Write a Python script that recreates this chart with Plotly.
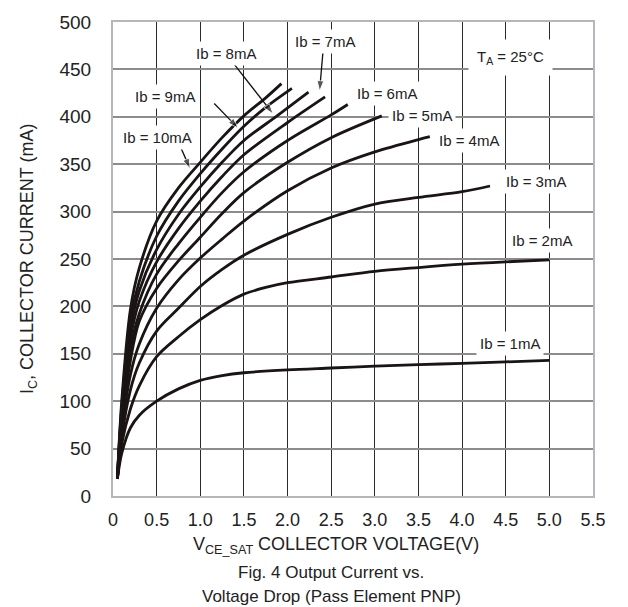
import plotly.graph_objects as go

# ---- data ----
ib1_v = [0.05, 0.1, 0.2, 0.3, 0.5, 0.75, 1.0, 1.25, 1.5, 2.0, 2.5, 3.0, 3.5, 4.0, 4.5, 5.0]
ib1_i = [18, 45, 72, 85, 100, 113, 122, 127, 130, 133, 135, 137, 138.5, 140, 141.5, 143]

ib2_v = [0.05, 0.1, 0.2, 0.3, 0.5, 0.75, 1.0, 1.25, 1.5, 1.75, 2.0, 2.5, 3.0, 3.5, 4.0, 4.5, 5.0]
ib2_i = [18, 55, 92, 116, 147, 168, 186, 201, 213, 220, 225, 231, 237, 241, 244.5, 247, 249]

ib3_v = [0.05, 0.1, 0.2, 0.3, 0.5, 0.75, 1.0, 1.25, 1.5, 2.0, 2.5, 3.0, 3.5, 4.0, 4.32]
ib3_i = [18, 62, 112, 140, 174, 198, 221, 239, 254, 276, 294, 308, 315, 321, 327]

ib4_v = [0.05, 0.1, 0.2, 0.3, 0.5, 0.75, 1.0, 1.25, 1.5, 2.0, 2.5, 3.0, 3.5, 3.63]
ib4_i = [18, 68, 128, 160, 198, 228, 251, 271, 290, 322, 346, 363, 376, 379]

ib5_v = [0.05, 0.1, 0.2, 0.3, 0.5, 0.75, 1.0, 1.25, 1.5, 2.0, 2.5, 3.08]
ib5_i = [18, 74, 143, 184, 219, 248, 273, 298, 320, 352, 378, 401]

ib6_v = [0.05, 0.1, 0.2, 0.3, 0.5, 0.75, 1.0, 1.25, 1.5, 2.0, 2.5, 2.69]
ib6_i = [18, 80, 155, 192, 234, 266, 294, 320, 342, 375, 402, 413]

ib7_v = [0.05, 0.1, 0.2, 0.3, 0.5, 0.75, 1.0, 1.25, 1.5, 2.0, 2.43]
ib7_i = [18, 85, 166, 205, 247, 282, 311, 337, 360, 394, 421]

ib8_v = [0.05, 0.1, 0.2, 0.3, 0.5, 0.75, 1.0, 1.25, 1.5, 1.88, 2.24]
ib8_i = [18, 90, 176, 216, 260, 297, 326, 352, 375, 401, 426]

ib9_v = [0.05, 0.1, 0.2, 0.3, 0.5, 0.75, 1.0, 1.25, 1.5, 1.75, 2.05]
ib9_i = [18, 95, 186, 226, 274, 311, 340, 366, 390, 410, 430]

ib10_v = [0.05, 0.1, 0.2, 0.3, 0.5, 0.75, 1.0, 1.25, 1.5, 1.75, 1.93]
ib10_i = [18, 100, 197, 240, 290, 325, 352, 378, 401, 420, 435]

curve_names = ["Ib = 1mA", "Ib = 2mA", "Ib = 3mA", "Ib = 4mA", "Ib = 5mA",
               "Ib = 6mA", "Ib = 7mA", "Ib = 8mA", "Ib = 9mA", "Ib = 10mA"]
curves_v = [ib1_v, ib2_v, ib3_v, ib4_v, ib5_v, ib6_v, ib7_v, ib8_v, ib9_v, ib10_v]
curves_i = [ib1_i, ib2_i, ib3_i, ib4_i, ib5_i, ib6_i, ib7_i, ib8_i, ib9_i, ib10_i]

x_tickvals = [0, 0.5, 1.0, 1.5, 2.0, 2.5, 3.0, 3.5, 4.0, 4.5, 5.0, 5.5]
x_ticktext = ["0", "0.5", "1.0", "1.5", "2.0", "2.5", "3.0", "3.5", "4.0", "4.5", "5.0", "5.5"]
y_tickvals = [0, 50, 100, 150, 200, 250, 300, 350, 400, 450, 500]

# label positions (data coords) for curve labels
label_text = ["Ib = 1mA", "Ib = 2mA", "Ib = 3mA", "Ib = 4mA", "Ib = 5mA",
              "Ib = 6mA", "Ib = 7mA", "Ib = 8mA", "Ib = 9mA", "Ib = 10mA"]
label_v = [4.55, 4.92, 4.85, 4.08, 3.54, 3.14, 2.43, 1.29, 0.60, 0.51]
label_i = [161, 270, 332, 375, 401, 425, 479, 467, 421, 378]

# arrows: (tail_v, tail_i, tip_v, tip_i)
arrow_tail_v = [0.77, 1.16, 1.34, 2.41]
arrow_tail_i = [369, 414, 461, 473]
arrow_tip_v = [0.885, 1.435, 1.835, 2.367]
arrow_tip_i = [345, 388, 403, 427]

FONT = "Arial, Liberation Sans, sans-serif"

fig = go.Figure()
for name, vv, ii in zip(curve_names, curves_v, curves_i):
    fig.add_trace(go.Scatter(x=vv, y=ii, mode="lines", name=name,
                             line=dict(color="#1a1414", width=2.8, shape="spline", smoothing=0.9),
                             showlegend=False, hoverinfo="skip"))

# label arrows (line + arrow-head marker at the tip)
for tv, ti, hv, hi in zip(arrow_tail_v, arrow_tail_i, arrow_tip_v, arrow_tip_i):
    fig.add_trace(go.Scatter(x=[tv, hv], y=[ti, hi], mode="lines+markers",
                             line=dict(color="#111", width=1.3),
                             marker=dict(symbol="arrow", size=[0, 11], angleref="previous",
                                         color="#111"),
                             showlegend=False, hoverinfo="skip"))

annotations = []
for t, v, i in zip(label_text, label_v, label_i):
    annotations.append(dict(x=v, y=i, xref="x", yref="y", text=t, showarrow=False,
                            font=dict(family=FONT, size=15, color="#222"),
                            bgcolor="white", borderpad=3))
annotations.append(dict(x=4.55, y=463, xref="x", yref="y", text="T<sub>A</sub> = 25°C",
                        showarrow=False, font=dict(family=FONT, size=15, color="#222"),
                        bgcolor="white", borderpad=8))

annotations.append(dict(x=-0.205, y=0.5, xref="paper", yref="paper",
                        text="I<sub>C</sub>, COLLECTOR CURRENT (mA)", textangle=-90,
                        showarrow=False, font=dict(family=FONT, size=18, color="#222")))
annotations.append(dict(x=0.465, y=-0.105, xref="paper", yref="paper", yanchor="middle",
                        text="V<sub>CE_SAT</sub> COLLECTOR VOLTAGE(V)",
                        showarrow=False, font=dict(family=FONT, size=18, color="#222")))
annotations.append(dict(x=0.455, y=-0.162, xref="paper", yref="paper", yanchor="middle",
                        text="Fig. 4 Output Current vs.",
                        showarrow=False, font=dict(family=FONT, size=17, color="#222")))
annotations.append(dict(x=0.455, y=-0.211, xref="paper", yref="paper", yanchor="middle",
                        text="Voltage Drop (Pass Element PNP)",
                        showarrow=False, font=dict(family=FONT, size=17, color="#222")))

fig.update_layout(
    width=628, height=607,
    margin=dict(l=113, r=35, t=16, b=111),
    paper_bgcolor="white", plot_bgcolor="white",
    annotations=annotations,
    xaxis=dict(range=[0, 5.5], tickmode="array", tickvals=x_tickvals, ticktext=x_ticktext,
               showgrid=True, gridcolor="#2a2a2a", gridwidth=1, zeroline=False,
               showline=True, linecolor="#b4b8bc", linewidth=2, mirror=True,
               ticks="", ticklabelstandoff=6,
               tickfont=dict(family=FONT, size=18, color="#222")),
    yaxis=dict(range=[0, 500], tickmode="array", tickvals=y_tickvals,
               showgrid=True, gridcolor="#8c8c8c", gridwidth=1.5, zeroline=False,
               showline=True, linecolor="#b4b8bc", linewidth=2, mirror=True,
               ticks="", ticklabelstandoff=16,
               tickfont=dict(family=FONT, size=19, color="#222")),
)

fig.write_html("out.html")
